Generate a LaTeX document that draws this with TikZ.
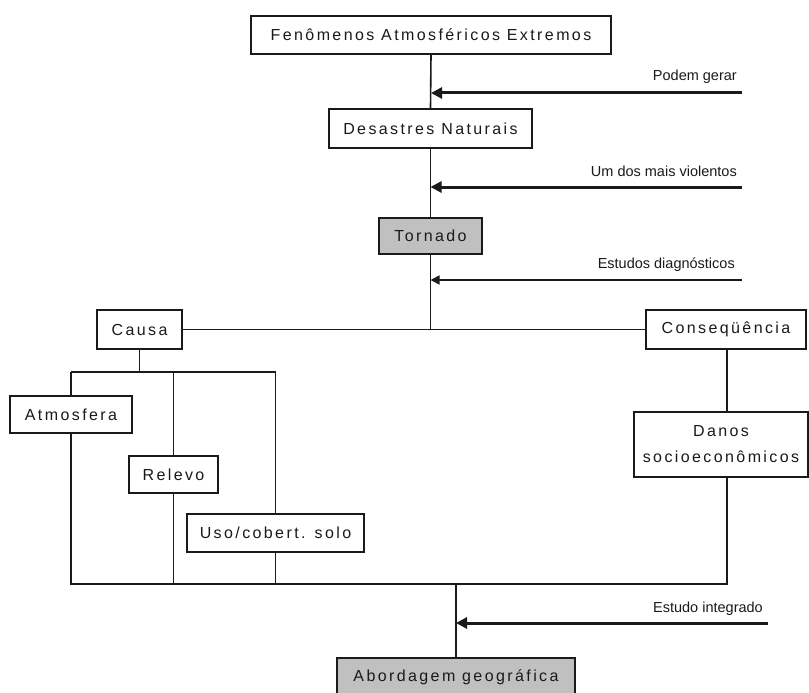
\documentclass[tikz,border=0pt]{standalone}
\usepackage{fontspec}
\setmainfont{Liberation Sans}
\newfontfamily\boxfont[LetterSpace=15]{Liberation Sans}
\newfontfamily\labfont{Liberation Sans}
\usetikzlibrary{arrows.meta}
\definecolor{boxgray}{HTML}{C0C0C0}
\definecolor{ink}{HTML}{1A1A1A}
\begin{document}
\begin{tikzpicture}[x=1pt,y=-1pt,
  box/.style={draw=ink,line width=1.6pt,rectangle,inner sep=0pt,align=center,
    font=\boxfont\fontsize{16}{26}\selectfont,text=ink},
  graybox/.style={box,fill=boxgray},
  lab/.style={anchor=east,inner sep=0pt,font=\labfont\fontsize{14.5}{16}\selectfont,text=ink},
  conn/.style={draw=ink,line width=1.6pt},
  thickarrow/.style={draw=ink,line width=3pt,-{Triangle[length=11pt,width=11pt]}},
  thinarrow/.style={draw=ink,line width=1.6pt,-{Triangle[length=9pt,width=9pt]}}]
\useasboundingbox (0,0) rectangle (809,693);
\fill[white] (0,0) rectangle (809,693);

% boxes
\node[box,minimum width=360pt,minimum height=38pt] (fen) at (431,35) {Fenômenos Atmosféricos Extremos};
\node[box,minimum width=203pt,minimum height=39pt] (des) at (430.5,128.5) {Desastres Naturais};
\node[graybox,minimum width=103pt,minimum height=36pt] (tor) at (430.5,236) {Tornado};
\node[box,minimum width=85pt,minimum height=39pt] (causa) at (139.5,329.5) {Causa};
\node[box,minimum width=160pt,minimum height=39pt] (cons) at (726,329.5) {Conseqüência};
\node[box,minimum width=122pt,minimum height=37pt] (atm) at (71,414.5) {Atmosfera};
\node[box,minimum width=89pt,minimum height=37pt] (rel) at (173.5,474.5) {Relevo};
\node[box,minimum width=177pt,minimum height=38pt] (uso) at (275.5,533) {Uso/cobert. solo};
\node[box,minimum width=174pt,minimum height=65pt] (danos) at (721,444.5) {Danos\\socioeconômicos};
\node[graybox,minimum width=238pt,minimum height=39pt] (abo) at (456,677.5) {Abordagem geográfica};

% junction coordinates
\coordinate (jt) at (430.5,330);
\coordinate (jc) at (139.5,372);
\coordinate (jl) at (71,372);
\coordinate (jr) at (275.5,372);
\coordinate (bl) at (71,584);
\coordinate (br) at (727,584);
\coordinate (bm) at (456,584);

% main spine
\draw[conn] (fen.south) -- (des.north);
\draw[conn] (des.south) -- (tor.north);
\draw[conn] (tor.south) -- (jt);
\draw[conn] (causa.east) -- (cons.west);

% causa branch
\draw[conn] (causa.south) -- (jc);
\draw[conn] (jl) -- (jr);
\draw[conn] (jl) -- (atm.north);
\draw[conn] (rel.north |- jc) -- (rel.north);
\draw[conn] (jr) -- (uso.north);

% consequence branch
\draw[conn] (br |- cons.south) -- (br |- danos.north);

% bottom collector
\draw[conn] (atm.south) -- (bl) -- (br) -- (br |- danos.south);
\draw[conn] (rel.south) -- (rel.south |- bl);
\draw[conn] (uso.south) -- (uso.south |- bl);
\draw[conn] (bm) -- (abo.north);

% side arrows
\coordinate (a1) at (742,93);
\coordinate (a2) at (742,187);
\coordinate (a3) at (742,280);
\coordinate (a4) at (768,623);
\draw[thickarrow] (a1) -- (a1 -| fen.south);
\draw[thickarrow] (a2) -- (a2 -| des.south);
\draw[thinarrow] (a3) -- (a3 -| tor.south);
\draw[thickarrow] (a4) -- (a4 -| abo.north);

% arrow labels
\node[lab] (l1) at (737,77) {Podem gerar};
\node[lab] (l2) at (737,171.5) {Um dos mais violentos};
\node[lab] (l3) at (735,265) {Estudos diagnósticos};
\node[lab] (l4) at (763,609) {Estudo integrado};
\end{tikzpicture}
\end{document}
